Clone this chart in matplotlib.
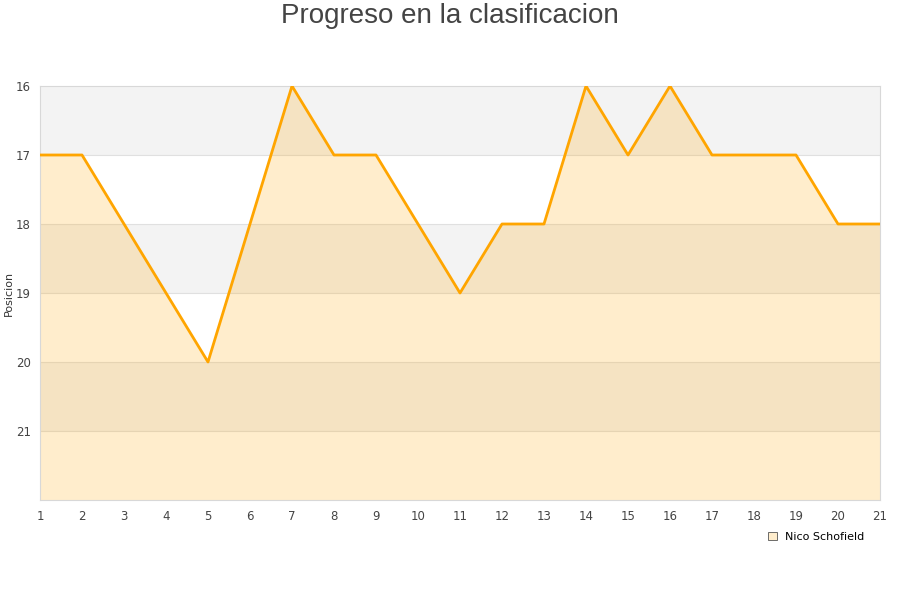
import matplotlib.pyplot as plt
from matplotlib.patches import Patch

# datos
jornadas = list(range(1, 22))
posiciones = [17, 17, 18, 19, 20, 18, 16, 17, 17, 18, 19, 18, 18, 16, 17, 16, 17, 17, 17, 18, 18]
nombre = 'Nico Schofield'
y_ticks = [16, 17, 18, 19, 20, 21]

fig = plt.figure(figsize=(9, 6), dpi=100)
ax = fig.add_axes([40/900, 100/600, 840/900, 414/600])

# bandas alternas
for i, lo in enumerate(range(16, 22)):
    if i % 2 == 0:
        ax.axhspan(lo, lo + 1, color='#f3f3f3', zorder=0, lw=0)

for t in range(17, 22):
    ax.axhline(t, color='#e0e0e0', lw=0.8, zorder=1)

ax.fill_between(jornadas, posiciones, 22, color='#ffa500', alpha=0.2, lw=0, zorder=2)
ax.plot(jornadas, posiciones, color='#ffa500', lw=2.0, zorder=3)

ax.set_xlim(1, 21)
ax.set_ylim(22, 16)
ax.set_xticks(jornadas)
ax.set_yticks(y_ticks)
ax.tick_params(axis='both', length=0, labelsize=8.5, colors='#444444')
ax.tick_params(axis='y', pad=6.5)
ax.tick_params(axis='x', pad=7)
for s in ax.spines.values():
    s.set_color('#d8d8d8')
    s.set_linewidth(0.8)

ax.set_ylabel('Posicion', fontsize=8, color='#333333', labelpad=0)
ax.yaxis.set_label_coords(-0.031, 0.5)

fig.text(0.5, 1 - 16/600, 'Progreso en la clasificacion', ha='center', va='center',
         fontsize=20, color='#444444', family='Liberation Sans')

handle = Patch(facecolor='#ffedcc', edgecolor='#555555', lw=0.6)
fig.legend([handle], [nombre], loc='center left', bbox_to_anchor=(758/900, 1 - 537/600),
           frameon=False, fontsize=8, handlelength=0.8, handleheight=0.8, handletextpad=0.7)

fig.savefig('out.png', dpi=100)
